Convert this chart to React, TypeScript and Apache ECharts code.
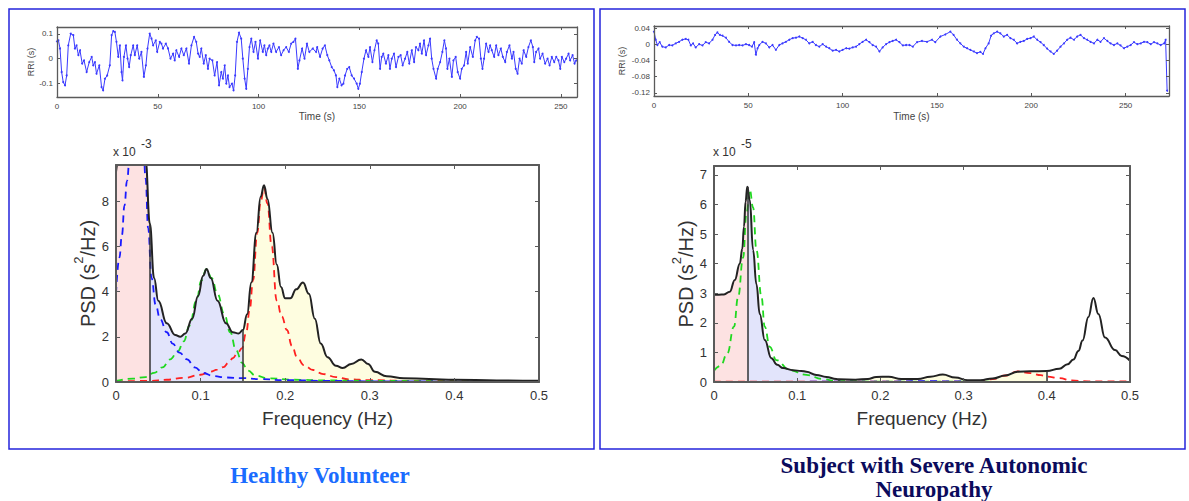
import React, { useEffect, useRef } from "react";
import * as echarts from "echarts";

const SANS = '"Liberation Sans", Arial, Helvetica, sans-serif';
const SERIF = '"Liberation Serif", "Times New Roman", serif';

// ---- RRI time series, healthy volunteer: [time s, RRI s]
const rriHealthy: number[][] = [
  [0, 0.07], [0.7, 0.074], [1.5, 0.041], [2.3, -0.054], [3.1, -0.095], [4.0, -0.108], [4.8, -0.068], [5.6, 0.054], [6.8, 0.101], [8.1, 0.095],
  [8.9, 0.041], [9.7, 0.054], [10.6, 0.014], [11.4, 0.034], [12.5, -0.02], [13.4, -0.007], [14.7, -0.054], [16.0, -0.014], [17.2, 0.007], [18.0, -0.027],
  [18.8, -0.014], [19.6, -0.061], [21.0, -0.027], [22.1, -0.115], [22.9, -0.128], [23.8, -0.081], [24.9, -0.068], [26.2, -0.027], [27.1, 0.095], [27.9, 0.111],
  [28.7, 0.108], [29.5, 0.068], [30.4, 0.007], [31.2, 0.054], [32.0, -0.054], [32.5, -0.088], [33.2, 0.007], [34.2, 0.054], [35.0, 0.0], [35.8, -0.034],
  [36.6, 0.014], [37.8, 0.054], [38.6, 0.014], [39.8, 0.054], [40.8, 0.0], [41.9, 0.027], [43.1, -0.074], [44.1, -0.027], [44.9, 0.041], [46.0, 0.101],
  [46.9, 0.081], [47.7, 0.054], [49.0, 0.074], [49.7, 0.027], [51.0, 0.068], [51.8, 0.061], [52.6, 0.041], [54.0, 0.061], [55.1, 0.041], [56.3, 0.0],
  [57.6, 0.02], [58.4, -0.007], [59.2, 0.034], [60.6, 0.007], [61.7, 0.041], [62.9, 0.014], [64.2, 0.041], [65.5, -0.02], [66.7, 0.054], [68.0, 0.088],
  [69.1, 0.068], [70.0, 0.02], [70.8, 0.007], [71.6, 0.041], [72.8, -0.02], [73.8, 0.014], [74.9, -0.041], [75.7, 0.0], [77.1, -0.007], [78.2, -0.068],
  [79.4, -0.014], [80.4, -0.108], [81.5, -0.054], [82.3, -0.081], [83.2, -0.027], [84.0, -0.101], [84.8, -0.068], [85.6, -0.115], [86.8, -0.101], [87.6, -0.128],
  [88.4, -0.068], [89.3, 0.068], [90.3, 0.105], [91.4, 0.081], [92.2, 0.0], [93.1, -0.081], [93.9, -0.122], [94.7, -0.041], [95.5, 0.047], [96.4, 0.081],
  [97.5, 0.027], [98.5, 0.068], [99.7, 0.0], [100.8, 0.074], [102.1, 0.027], [102.9, 0.054], [103.8, 0.014], [104.6, 0.041], [105.4, 0.054], [106.3, 0.027],
  [107.4, 0.061], [108.7, 0.027], [110.1, 0.047], [111.2, 0.014], [112.4, 0.034], [113.7, 0.047], [115.0, 0.027], [116.2, 0.061], [117.3, 0.068], [118.3, 0.081],
  [119.5, -0.041], [120.3, -0.007], [121.6, 0.041], [122.8, 0.0], [124.0, 0.061], [125.2, 0.027], [126.9, 0.041], [128.5, 0.027], [129.1, 0.047], [130.5, 0.007],
  [131.8, 0.041], [132.9, 0.054], [134.1, 0.014], [135.1, -0.007], [136.3, -0.034], [137.4, -0.047], [138.4, -0.068], [139.1, -0.115], [140.1, -0.081], [141.2, -0.108],
  [142.1, -0.101], [142.9, -0.068], [144.0, -0.041], [145.0, -0.034], [146.2, -0.068], [147.4, -0.081], [148.7, -0.101], [149.5, -0.122], [150.3, -0.101], [151.2, -0.054],
  [152.3, 0.0], [153.3, 0.034], [154.5, 0.007], [155.3, 0.047], [156.5, -0.014], [157.5, 0.034], [158.6, 0.074], [159.4, 0.061], [160.3, -0.041], [161.1, 0.007],
  [161.9, 0.02], [163.2, -0.02], [164.4, 0.014], [165.2, -0.041], [166.1, 0.0], [167.2, 0.02], [168.2, -0.034], [169.4, 0.007], [170.5, 0.014], [171.5, -0.027],
  [172.7, 0.0], [173.8, 0.027], [174.8, -0.02], [176.0, 0.034], [177.2, -0.014], [178.1, 0.047], [179.3, 0.034], [180.1, 0.061], [181.0, 0.02], [182.1, 0.074],
  [183.1, 0.014], [184.3, 0.054], [185.1, 0.081], [185.9, 0.0], [186.8, -0.041], [188.1, -0.081], [188.9, -0.041], [190.1, -0.014], [191.2, 0.027], [192.2, 0.074],
  [193.0, 0.041], [193.7, -0.041], [194.7, 0.0], [195.9, -0.074], [196.7, -0.007], [197.8, 0.007], [198.8, -0.054], [200.0, -0.081], [200.8, -0.041], [202.0, -0.027],
  [203.0, 0.027], [203.8, -0.02], [205.0, 0.047], [206.3, 0.007], [207.5, 0.074], [208.3, 0.088], [209.4, 0.081], [210.3, 0.0], [211.1, -0.041], [211.9, 0.0],
  [212.9, 0.061], [214.1, 0.027], [214.9, 0.054], [215.7, 0.034], [216.9, 0.007], [217.9, 0.054], [219.0, 0.014], [220.2, 0.041], [221.2, 0.007], [222.4, -0.014],
  [223.2, 0.027], [224.5, 0.054], [225.7, 0.0], [226.5, 0.027], [227.6, -0.041], [228.5, -0.061], [229.5, 0.0], [230.6, -0.02], [231.5, 0.034], [232.8, 0.007],
  [233.9, 0.047], [235.1, 0.074], [236.1, 0.047], [236.8, -0.014], [237.7, 0.027], [238.9, 0.041], [239.7, 0.0], [240.9, 0.02], [242.2, -0.02], [243.4, 0.0],
  [244.4, -0.027], [245.5, 0.007], [246.7, -0.014], [247.7, 0.007], [248.8, -0.007], [249.7, -0.041], [250.5, 0.007], [251.7, -0.014], [252.6, 0.0], [253.8, 0.02],
  [254.6, -0.007], [255.8, 0.014], [256.8, -0.02], [257.6, -0.007],
];

// ---- RRI time series, neuropathy subject: [time s, RRI s]
const rriNeuro: number[][] = [
  [0, 0.031], [0.9, 0.011], [1.8, -0.002], [3.0, 0.005], [4.4, -0.006], [6.2, -0.008], [8.0, -0.002], [9.7, -0.003], [11.5, 0.002], [13.3, 0.006],
  [15.0, 0.011], [16.8, 0.013], [18.2, 0.011], [19.5, -0.003], [20.7, 0.002], [22.1, -0.008], [23.9, 0.0], [25.7, -0.003], [27.4, 0.005], [29.2, 0.002],
  [31.0, 0.011], [32.4, 0.023], [33.6, 0.029], [34.9, 0.023], [36.3, 0.021], [38.1, 0.016], [39.8, 0.006], [41.6, -0.002], [43.4, -0.003], [45.1, -0.002],
  [46.9, -0.003], [48.7, 0.0], [50.4, -0.002], [51.9, -0.006], [53.1, 0.005], [54.0, -0.026], [54.9, -0.01], [55.8, -0.002], [57.5, 0.006], [59.3, 0.002],
  [61.1, -0.008], [62.8, -0.002], [64.6, -0.014], [66.4, -0.002], [68.1, 0.002], [69.9, 0.006], [71.7, 0.011], [73.5, 0.015], [75.2, 0.016], [77.0, 0.019],
  [78.8, 0.015], [80.5, 0.011], [82.3, 0.002], [84.1, 0.006], [85.8, -0.002], [87.6, -0.006], [89.4, 0.0], [91.2, -0.006], [92.9, -0.01], [94.7, -0.016],
  [96.5, -0.014], [98.2, -0.018], [100.0, -0.014], [101.8, -0.01], [103.5, -0.011], [105.3, -0.008], [107.1, -0.006], [108.8, 0.0], [110.6, 0.006], [112.4, 0.011],
  [114.2, 0.005], [115.9, -0.002], [117.7, -0.006], [119.5, -0.018], [121.2, -0.008], [123.0, 0.0], [124.8, 0.005], [126.5, 0.008], [128.3, 0.011], [130.1, 0.005],
  [131.9, -0.003], [133.6, -0.002], [135.4, -0.002], [137.2, -0.006], [139.4, 0.005], [142.0, 0.008], [144.7, 0.006], [147.3, 0.011], [149.1, 0.005], [151.8, 0.019],
  [154.4, 0.024], [157.1, 0.031], [158.8, 0.023], [160.6, 0.011], [162.4, 0.002], [164.2, -0.006], [165.9, -0.01], [167.7, -0.014], [169.5, -0.018], [171.2, -0.022],
  [173.0, -0.019], [174.4, -0.024], [175.7, -0.01], [177.4, 0.002], [178.7, 0.021], [180.1, 0.027], [181.9, 0.031], [183.6, 0.027], [185.4, 0.019], [187.2, 0.023],
  [188.9, 0.015], [190.7, 0.011], [192.5, 0.002], [194.2, 0.006], [196.0, 0.008], [197.8, 0.013], [199.6, 0.015], [201.3, 0.019], [203.1, 0.011], [204.9, 0.005],
  [206.6, -0.002], [208.4, -0.011], [210.2, -0.018], [211.9, -0.024], [213.7, -0.016], [215.5, -0.006], [217.3, 0.002], [219.0, 0.011], [220.8, 0.016], [222.6, 0.011],
  [224.3, 0.019], [226.1, 0.023], [227.9, 0.015], [229.6, 0.011], [231.4, 0.006], [233.2, 0.002], [235.0, 0.011], [236.7, 0.006], [238.5, 0.015], [240.3, 0.008],
  [242.0, 0.002], [243.8, -0.002], [245.6, 0.002], [247.3, -0.003], [249.1, -0.01], [250.9, -0.006], [252.7, -0.002], [254.4, 0.005], [256.2, 0.0], [258.0, 0.002],
  [259.7, 0.006], [261.5, 0.005], [263.3, 0.0], [265.0, 0.005], [266.8, 0.002], [268.6, -0.002], [270.4, 0.002], [271.2, 0.011], [272.0, -0.115],
];

// ---- PSD healthy volunteer (x 10^-3 s^2/Hz): [frequency Hz, PSD]
const psdTotalHealthy: number[][] = [
  [0, 9.3], [0.003, 9.8], [0.01, 11.5], [0.02, 13.5], [0.03, 12.5], [0.035, 9.8], [0.04, 7.0], [0.045, 4.6], [0.05, 3.6], [0.06, 2.6],
  [0.07, 2.08], [0.076, 2.0], [0.082, 2.15], [0.09, 2.8], [0.097, 3.8], [0.103, 4.7], [0.107, 5.0], [0.112, 4.6], [0.12, 3.6], [0.13, 2.6],
  [0.138, 2.2], [0.145, 2.15], [0.15, 2.3], [0.155, 3.0], [0.16, 4.4], [0.166, 6.6], [0.171, 8.2], [0.175, 8.7], [0.179, 8.1], [0.185, 6.6],
  [0.19, 5.2], [0.195, 4.2], [0.2, 3.7], [0.206, 3.7], [0.213, 4.1], [0.221, 4.4], [0.228, 3.9], [0.235, 2.8], [0.242, 1.7], [0.25, 1.1],
  [0.26, 0.72], [0.268, 0.62], [0.278, 0.8], [0.29, 1.0], [0.298, 0.8], [0.306, 0.45], [0.32, 0.25], [0.34, 0.17], [0.37, 0.13], [0.4, 0.1],
  [0.45, 0.07], [0.5, 0.05],
];
const psdVlfHealthy: number[][] = [
  [0, 3.9], [0.004, 5.5], [0.007, 6.5], [0.01, 7.8], [0.013, 8.9], [0.017, 10.5], [0.025, 12.5], [0.032, 10.8], [0.035, 9.0], [0.038, 6.8],
  [0.042, 4.6], [0.047, 3.4], [0.052, 2.8], [0.06, 2.2], [0.067, 1.7], [0.075, 1.3], [0.084, 1.0], [0.093, 0.65], [0.103, 0.4], [0.115, 0.26],
  [0.13, 0.2], [0.15, 0.17], [0.17, 0.13], [0.2, 0.08], [0.25, 0.05], [0.3, 0.03], [0.4, 0.02], [0.5, 0.01],
];
const psdLfHealthy: number[][] = [
  [0, 0.05], [0.02, 0.15], [0.035, 0.22], [0.045, 0.4], [0.055, 0.65], [0.064, 1.0], [0.073, 1.35], [0.08, 1.8], [0.087, 2.5], [0.095, 3.6],
  [0.101, 4.5], [0.107, 5.0], [0.113, 4.6], [0.12, 3.9], [0.128, 3.0], [0.135, 2.2], [0.142, 1.4], [0.149, 0.85], [0.156, 0.5], [0.165, 0.28],
  [0.18, 0.16], [0.21, 0.1], [0.25, 0.07], [0.3, 0.05], [0.4, 0.03], [0.5, 0.02],
];
const psdHfHealthy: number[][] = [
  [0, 0.02], [0.04, 0.05], [0.06, 0.1], [0.08, 0.18], [0.1, 0.32], [0.111, 0.45], [0.12, 0.55], [0.127, 0.66], [0.133, 0.85], [0.138, 1.05],
  [0.144, 1.3], [0.149, 1.5], [0.154, 2.2], [0.158, 3.2], [0.162, 4.5], [0.167, 6.6], [0.171, 8.0], [0.175, 8.6], [0.179, 7.9], [0.184, 6.0],
  [0.19, 3.6], [0.196, 2.9], [0.202, 2.3], [0.208, 1.6], [0.214, 1.1], [0.222, 0.75], [0.233, 0.53], [0.245, 0.35], [0.26, 0.22], [0.275, 0.12],
  [0.3, 0.08], [0.35, 0.05], [0.4, 0.04], [0.5, 0.03],
];

// ---- PSD neuropathy subject (x 10^-5 s^2/Hz)
const psdTotalNeuro: number[][] = [
  [0, 2.95], [0.006, 2.95], [0.012, 2.96], [0.019, 3.05], [0.025, 3.45], [0.031, 4.0], [0.034, 4.5], [0.036, 5.25], [0.038, 6.1], [0.04, 6.6],
  [0.043, 6.15], [0.047, 4.46], [0.051, 3.3], [0.055, 2.3], [0.061, 1.42], [0.069, 0.8], [0.076, 0.58], [0.083, 0.47], [0.095, 0.4], [0.105, 0.37],
  [0.111, 0.35], [0.123, 0.24], [0.135, 0.17], [0.147, 0.1], [0.15, 0.09], [0.17, 0.08], [0.185, 0.1], [0.195, 0.17], [0.21, 0.18], [0.225, 0.1],
  [0.245, 0.1], [0.26, 0.18], [0.275, 0.25], [0.29, 0.15], [0.305, 0.06], [0.32, 0.06], [0.335, 0.12], [0.35, 0.22], [0.365, 0.35], [0.38, 0.36],
  [0.4, 0.37], [0.415, 0.45], [0.425, 0.6], [0.432, 0.76], [0.438, 1.05], [0.443, 1.4], [0.45, 2.2], [0.456, 2.84], [0.462, 2.3], [0.47, 1.5],
  [0.482, 1.08], [0.49, 0.88], [0.5, 0.72],
];
const psdLfNeuro: number[][] = [
  [0, 0.38], [0.008, 0.55], [0.016, 0.97], [0.024, 1.87], [0.029, 2.88], [0.035, 4.2], [0.039, 5.7], [0.043, 6.5], [0.047, 5.9], [0.051, 4.46],
  [0.057, 2.88], [0.061, 1.87], [0.067, 1.19], [0.075, 0.74], [0.091, 0.4], [0.111, 0.24], [0.131, 0.1], [0.147, 0.03], [0.2, 0.01], [0.5, 0.0],
];
const psdHfNeuro: number[][] = [
  [0, 0.01], [0.2, 0.01], [0.3, 0.01], [0.32, 0.03], [0.335, 0.1], [0.35, 0.22], [0.365, 0.36], [0.38, 0.3], [0.393, 0.23], [0.4, 0.18],
  [0.415, 0.13], [0.43, 0.05], [0.45, 0.02], [0.5, 0.02],
];
const psdVlfNeuro: number[][] = [
  [0, 0.0], [0.2, 0.01], [0.26, 0.03], [0.28, 0.02], [0.35, 0.005], [0.5, 0.0],
];

// frequency bands: VLF, LF, HF
const bandEdges = [0, 0.04, 0.15, 0.4];
const bandColors = ["#fde2e2", "#e2e4fb", "#fefde0"];

const titles = ["Healthy Volunteer", "Subject with Severe Autonomic", "Neuropathy"];

function slice(data: number[][], a: number, b: number) {
  return data.filter((p) => p[0] >= a - 1e-9 && p[0] <= b + 1e-9);
}
function valueAt(data: number[][], f: number) {
  const p = data.find((d) => Math.abs(d[0] - f) < 1e-9);
  return p ? p[1] : 0;
}

function buildOption() {
  const boxColor = "#5a5a5a";
  const xTop = (grid: number, max: number, interval: number, w: number, tl: number) => ({
    gridIndex: grid, type: "value", position: "top", min: 0, max, interval, z: 6,
    axisLine: { show: true, onZero: false, lineStyle: { color: boxColor, width: w } },
    axisTick: { show: true, inside: true, length: tl, lineStyle: { color: boxColor, width: 1 } },
    axisLabel: { show: false }, splitLine: { show: false },
  });
  const smallLabel = { fontSize: 8, color: "#444", fontFamily: SANS };
  const psdLabel = { fontSize: 13, color: "#333", fontFamily: SANS, margin: 7, showMaxLabel: false };
  const freqFmt = (v: number) => (v === 0 ? "0" : v.toFixed(1));

  const xAxis: any[] = [
    {
      gridIndex: 0, type: "value", min: 0, max: 258, interval: 50, z: 6,
      axisLine: { show: true, onZero: false, lineStyle: { color: boxColor, width: 1.3 } },
      axisTick: { inside: true, length: 3, lineStyle: { color: boxColor } },
      axisLabel: { ...smallLabel, margin: 5, showMaxLabel: false }, splitLine: { show: false },
      name: "Time (s)", nameLocation: "middle", nameGap: 14,
      nameTextStyle: { fontSize: 10, color: "#444", fontFamily: SANS },
    },
    xTop(0, 258, 50, 1.3, 3),
    {
      gridIndex: 1, type: "value", min: 0, max: 273, interval: 50, z: 6,
      axisLine: { show: true, onZero: false, lineStyle: { color: boxColor, width: 1.3 } },
      axisTick: { inside: true, length: 3, lineStyle: { color: boxColor } },
      axisLabel: { ...smallLabel, margin: 5, showMaxLabel: false }, splitLine: { show: false },
      name: "Time (s)", nameLocation: "middle", nameGap: 15,
      nameTextStyle: { fontSize: 10, color: "#444", fontFamily: SANS },
    },
    xTop(1, 273, 50, 1.3, 3),
    {
      gridIndex: 2, type: "value", min: 0, max: 0.5, interval: 0.1, z: 6,
      axisLine: { show: true, onZero: false, lineStyle: { color: boxColor, width: 2 } },
      axisTick: { inside: true, length: 4, lineStyle: { color: boxColor } },
      axisLabel: { ...psdLabel, showMaxLabel: true, formatter: freqFmt }, splitLine: { show: false },
      name: "Frequency (Hz)", nameLocation: "middle", nameGap: 27,
      nameTextStyle: { fontSize: 19, color: "#333", fontFamily: SANS },
    },
    xTop(2, 0.5, 0.1, 2, 4),
    {
      gridIndex: 3, type: "value", min: 0, max: 0.5, interval: 0.1, z: 6,
      axisLine: { show: true, onZero: false, lineStyle: { color: boxColor, width: 2 } },
      axisTick: { inside: true, length: 4, lineStyle: { color: boxColor } },
      axisLabel: { ...psdLabel, showMaxLabel: true, formatter: freqFmt }, splitLine: { show: false },
      name: "Frequency (Hz)", nameLocation: "middle", nameGap: 27,
      nameTextStyle: { fontSize: 19, color: "#333", fontFamily: SANS },
    },
    xTop(3, 0.5, 0.1, 2, 4),
  ];

  const yRight = (grid: number, min: number, max: number, extra: any, w: number, tl: number) => ({
    gridIndex: grid, type: "value", position: "right", min, max, z: 6,
    ...(extra.interval ? { interval: extra.interval } : {}),
    axisLine: { show: true, onZero: false, lineStyle: { color: boxColor, width: w } },
    axisTick: { show: true, inside: true, length: tl, lineStyle: { color: boxColor }, ...(extra.tickValues ? { customValues: extra.tickValues } : {}) },
    axisLabel: { show: false }, splitLine: { show: false },
  });
  const ticksH = [-0.1, 0, 0.1];
  const ticksN = [-0.12, -0.08, -0.04, 0, 0.04];
  const psdName = "{a|PSD (s}{s|2}{a|/Hz)}";
  const psdNameStyle = {
    fontFamily: SANS, color: "#333",
    rich: {
      a: { fontSize: 20, fontFamily: SANS, color: "#333", verticalAlign: "bottom", lineHeight: 26 },
      s: { fontSize: 13, fontFamily: SANS, color: "#333", verticalAlign: "top", lineHeight: 26 },
    },
  };

  const yAxis: any[] = [
    {
      gridIndex: 0, type: "value", min: -0.155, max: 0.128, z: 6,
      axisLine: { show: true, onZero: false, lineStyle: { color: boxColor, width: 1.3 } },
      axisTick: { inside: true, length: 3, customValues: ticksH, lineStyle: { color: boxColor } },
      axisLabel: { ...smallLabel, margin: 4, customValues: ticksH, formatter: (v: number) => String(v) },
      splitLine: { show: false },
      name: "RRI (s)", nameLocation: "middle", nameGap: 20,
      nameTextStyle: { fontSize: 9, color: "#444", fontFamily: SANS },
    },
    yRight(0, -0.155, 0.128, { tickValues: ticksH }, 1.3, 3),
    {
      gridIndex: 1, type: "value", min: -0.128, max: 0.045, z: 6,
      axisLine: { show: true, onZero: false, lineStyle: { color: boxColor, width: 1.3 } },
      axisTick: { inside: true, length: 3, customValues: ticksN, lineStyle: { color: boxColor } },
      axisLabel: { ...smallLabel, margin: 4, customValues: ticksN, formatter: (v: number) => String(v) },
      splitLine: { show: false },
      name: "RRI (s)", nameLocation: "middle", nameGap: 28,
      nameTextStyle: { fontSize: 9, color: "#444", fontFamily: SANS },
    },
    yRight(1, -0.128, 0.045, { tickValues: ticksN }, 1.3, 3),
    {
      gridIndex: 2, type: "value", min: 0, max: 9.6, interval: 2, z: 6,
      axisLine: { show: true, onZero: false, lineStyle: { color: boxColor, width: 2 } },
      axisTick: { inside: true, length: 4, lineStyle: { color: boxColor } },
      axisLabel: psdLabel, splitLine: { show: false },
      name: psdName, nameLocation: "middle", nameGap: 14, nameTextStyle: psdNameStyle,
    },
    yRight(2, 0, 9.6, { interval: 2 }, 2, 4),
    {
      gridIndex: 3, type: "value", min: 0, max: 7.3, interval: 1, z: 6,
      axisLine: { show: true, onZero: false, lineStyle: { color: boxColor, width: 2 } },
      axisTick: { inside: true, length: 4, lineStyle: { color: boxColor } },
      axisLabel: psdLabel, splitLine: { show: false },
      name: psdName, nameLocation: "middle", nameGap: 18, nameTextStyle: psdNameStyle,
    },
    yRight(3, 0, 7.3, { interval: 1 }, 2, 4),
  ];

  const series: any[] = [];
  const rriStyle = (data: number[][], xi: number, yi: number) => ({
    type: "line", xAxisIndex: xi, yAxisIndex: yi, data,
    symbol: "circle", symbolSize: 2, showSymbol: true,
    itemStyle: { color: "#3a3aff" }, lineStyle: { color: "#3a3aff", width: 1 }, z: 2,
  });
  series.push(rriStyle(rriHealthy, 0, 0));
  series.push(rriStyle(rriNeuro, 2, 2));

  const SM = 0.45;
  const psd = (xi: number, yi: number, total: number[][], vlf: number[][], lf: number[][], hf: number[][], lines: number[]) => {
    for (let i = 0; i < 3; i++) {
      series.push({
        type: "line", xAxisIndex: xi, yAxisIndex: yi, smooth: SM, smoothMonotone: "x",
        data: slice(total, bandEdges[i], bandEdges[i + 1]), symbol: "none",
        lineStyle: { width: 0 }, areaStyle: { color: bandColors[i], opacity: 1 }, z: 1,
      });
    }
    const dashed = (data: number[][], color: string) => ({
      type: "line", xAxisIndex: xi, yAxisIndex: yi, data, smooth: SM, smoothMonotone: "x", symbol: "none",
      lineStyle: { color, width: 1.8, type: [7, 5] }, z: 3,
    });
    series.push(dashed(hf, "#ff2020"));
    series.push(dashed(lf, "#20d820"));
    series.push(dashed(vlf, "#1a1aff"));
    series.push({
      type: "line", xAxisIndex: xi, yAxisIndex: yi, data: total, smooth: SM, smoothMonotone: "x", symbol: "none",
      lineStyle: { color: "#222", width: 2 }, z: 4,
      markLine: {
        silent: true, symbol: ["none", "none"], label: { show: false },
        lineStyle: { color: "#333", width: 1.5, type: "solid" },
        data: lines.map((b) => [{ coord: [b, 0] }, { coord: [b, valueAt(total, b)] }]),
      },
    });
  };
  psd(4, 4, psdTotalHealthy, psdVlfHealthy, psdLfHealthy, psdHfHealthy, [0.04, 0.15]);
  psd(6, 6, psdTotalNeuro, psdVlfNeuro, psdLfNeuro, psdHfNeuro, [0.04, 0.15, 0.4]);

  const exp = (x: number, y: number, e: string) => [
    { type: "text", x, y, style: { text: "x 10", font: `12px ${SANS}`, fill: "#333", verticalAlign: "middle" } },
    { type: "text", x: x + 28, y: y - 8, style: { text: e, font: `12px ${SANS}`, fill: "#333", verticalAlign: "middle" } },
  ];

  const graphic: any[] = [
    { type: "rect", shape: { x: 9, y: 9, width: 585, height: 440 }, style: { fill: "none", stroke: "#2424dc", lineWidth: 1.5 } },
    { type: "rect", shape: { x: 600, y: 9, width: 585, height: 440 }, style: { fill: "none", stroke: "#2424dc", lineWidth: 1.5 } },
    ...exp(113, 152, "-3"),
    ...exp(713, 152, "-5"),
    { type: "text", x: 320, y: 475, style: { text: titles[0], font: `bold 23px ${SERIF}`, fill: "#1a6cff", align: "center", verticalAlign: "middle" } },
    { type: "text", x: 934, y: 465, style: { text: titles[1], font: `bold 23px ${SERIF}`, fill: "#0b0b5c", align: "center", verticalAlign: "middle" } },
    { type: "text", x: 934, y: 489, style: { text: titles[2], font: `bold 23px ${SERIF}`, fill: "#0b0b5c", align: "center", verticalAlign: "middle" } },
  ];

  return {
    animation: false,
    backgroundColor: "#ffffff",
    grid: [
      { left: 57, top: 27, width: 520, height: 70 },
      { left: 654, top: 26, width: 515, height: 70 },
      { left: 116, top: 165, width: 423, height: 217 },
      { left: 714, top: 166, width: 416, height: 216 },
    ],
    xAxis, yAxis, series, graphic,
  };
}

export default function App() {
  const ref = useRef<HTMLDivElement>(null);
  useEffect(() => {
    const chart = echarts.init(ref.current!, null, { renderer: "svg" });
    chart.setOption(buildOption() as any);
    return () => chart.dispose();
  }, []);
  return (
    <div
      ref={ref}
      style={{ position: "fixed", left: 0, top: 0, width: 1189, height: 501, background: "#fff" }}
    />
  );
}
